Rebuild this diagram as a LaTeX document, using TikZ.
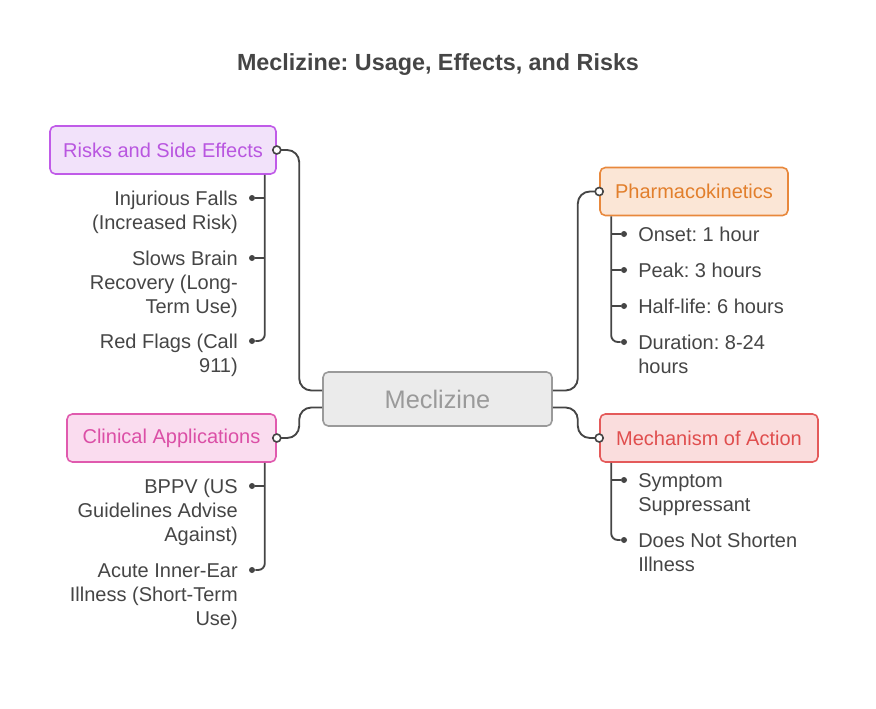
\documentclass[tikz,border=0pt]{standalone}
\usepackage{fontspec}
\setmainfont{Liberation Sans}
\frenchspacing
\definecolor{ink}{HTML}{454545}
\definecolor{greyline}{HTML}{9A9A9A}
\definecolor{greyfill}{HTML}{EBEBEB}
\definecolor{purpline}{HTML}{C05BE8}
\definecolor{purpfill}{HTML}{F2E2FA}
\definecolor{purptext}{HTML}{B956E0}
\definecolor{orngline}{HTML}{E8883C}
\definecolor{orngfill}{HTML}{FBE6D6}
\definecolor{orngtext}{HTML}{E27F2C}
\definecolor{pinkline}{HTML}{E05AAE}
\definecolor{pinkfill}{HTML}{FADCEF}
\definecolor{pinktext}{HTML}{DB4FA6}
\definecolor{redline}{HTML}{E45A5A}
\definecolor{redfill}{HTML}{FADDDD}
\definecolor{redtext}{HTML}{E04E4E}
\begin{document}
\begin{tikzpicture}[x=0.75pt, y=-0.75pt,
	box/.style={draw, line width=1.2pt, rounded corners=4pt, minimum height=36pt, inner sep=0pt, font=\fontsize{15}{18}\selectfont},
	item/.style={text=ink, inner sep=0pt, font=\fontsize{15}{18}\selectfont},
	link/.style={draw=ink, line width=1.4pt, rounded corners=7pt},
	dot/.style={circle, fill=ink, inner sep=0pt, minimum size=4.5pt},
	port/.style={circle, draw=ink, fill=white, line width=1.2pt, inner sep=0pt, minimum size=6pt}]

	\useasboundingbox (0,0) rectangle (876,708);

	\node[text=ink, font=\fontsize{17.5}{21}\selectfont\bfseries] (title) at (438,65) {Meclizine: Usage, Effects, and Risks};

	\node[box, draw=greyline, fill=greyfill, text=greyline, minimum width=171.75pt, minimum height=40.5pt, font=\fontsize{19}{22}\selectfont] (med) at (437.5,399) {Meclizine};
	\node[box, draw=purpline, fill=purpfill, text=purptext, minimum width=169.5pt] (risk) at (163,150) {Risks and Side Effects};
	\node[box, draw=orngline, fill=orngfill, text=orngtext, minimum width=141pt] (pk) at (694,191.5) {Pharmacokinetics};
	\node[box, draw=pinkline, fill=pinkfill, text=pinktext, minimum width=156.75pt] (clin) at (171.5,438) {Clinical Applications};
	\node[box, draw=redline, fill=redfill, text=redtext, minimum width=163.5pt] (moa) at (709,438) {Mechanism of Action};

	\coordinate (mlu) at ([yshift=6.4pt]med.west);
	\coordinate (mld) at ([yshift=-6.4pt]med.west);
	\coordinate (mru) at ([yshift=6.4pt]med.east);
	\coordinate (mrd) at ([yshift=-6.4pt]med.east);

	\draw[link, rounded corners=9pt] (risk.east) -| ([xshift=-17.25pt]mlu) -- (mlu);
	\draw[link, rounded corners=9pt] (clin.east) -| ([xshift=-17.25pt]mld) -- (mld);
	\draw[link, rounded corners=9pt] (mru) -- ([xshift=18.75pt]mru) |- (pk.west);
	\draw[link, rounded corners=9pt] (mrd) -- ([xshift=18.75pt]mrd) |- (moa.west);

	\node[port] (prisk) at (risk.east) {};
	\node[port] (pclin) at (clin.east) {};
	\node[port] (ppk) at (pk.west) {};
	\node[port] (pmoa) at (moa.west) {};

	% risks and side effects
	\coordinate (rt) at ([xshift=-9pt]risk.south east);
	\node[dot] (r1) at (252,198) {};
	\node[dot] (r2) at (252,258) {};
	\node[dot] (r3) at (252,341) {};
	\draw[link, rounded corners=5pt] (rt) |- (r3);
	\draw[link] (r1) -- (r1 -| rt);
	\draw[link] (r2) -- (r2 -| rt);
	\node[item, anchor=base east, align=right] (r1t) at ([shift={(-14,31)}]r1) {Injurious Falls\\(Increased Risk)};
	\node[item, anchor=base east, align=right] (r2t) at ([shift={(-14,55)}]r2) {Slows Brain\\Recovery (Long-\\Term Use)};
	\node[item, anchor=base east, align=right] (r3t) at ([shift={(-14,31)}]r3) {Red Flags (Call\\911)};

	% clinical applications
	\coordinate (ct) at ([xshift=-9pt]clin.south east);
	\node[dot] (c1) at (252,486) {};
	\node[dot] (c2) at (252,570) {};
	\draw[link, rounded corners=5pt] (ct) |- (c2);
	\draw[link] (c1) -- (c1 -| ct);
	\node[item, anchor=base east, align=right] (c1t) at ([shift={(-14,55)}]c1) {BPPV (US\\Guidelines Advise\\Against)};
	\node[item, anchor=base east, align=right] (c2t) at ([shift={(-14,55)}]c2) {Acute Inner-Ear\\Illness (Short-Term\\Use)};

	% pharmacokinetics
	\coordinate (kt) at ([xshift=9pt]pk.south west);
	\node[dot] (k1) at (624,234) {};
	\node[dot] (k2) at (624,270) {};
	\node[dot] (k3) at (624,306) {};
	\node[dot] (k4) at (624,342) {};
	\draw[link, rounded corners=5pt] (kt) |- (k4);
	\draw[link] (k1) -- (k1 -| kt);
	\draw[link] (k2) -- (k2 -| kt);
	\draw[link] (k3) -- (k3 -| kt);
	\node[item, anchor=base west, align=left] (k1t) at ([shift={(14,7)}]k1) {Onset: 1 hour};
	\node[item, anchor=base west, align=left] (k2t) at ([shift={(14,7)}]k2) {Peak: 3 hours};
	\node[item, anchor=base west, align=left] (k3t) at ([shift={(14,7)}]k3) {Half-life: 6 hours};
	\node[item, anchor=base west, align=left] (k4t) at ([shift={(14,31)}]k4) {Duration: 8-24\\hours};

	% mechanism of action
	\coordinate (mt) at ([xshift=9pt]moa.south west);
	\node[dot] (m1) at (624,480) {};
	\node[dot] (m2) at (624,540) {};
	\draw[link, rounded corners=5pt] (mt) |- (m2);
	\draw[link] (m1) -- (m1 -| mt);
	\node[item, anchor=base west, align=left] (m1t) at ([shift={(14,31)}]m1) {Symptom\\Suppressant};
	\node[item, anchor=base west, align=left] (m2t) at ([shift={(14,31)}]m2) {Does Not Shorten\\Illness};

\end{tikzpicture}
\end{document}
